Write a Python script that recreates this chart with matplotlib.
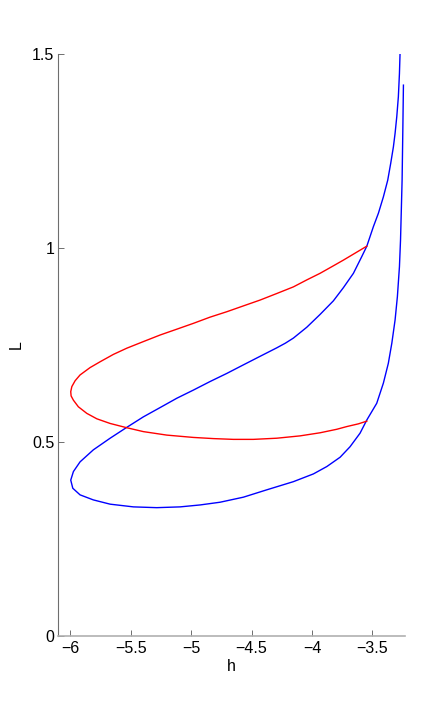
import matplotlib
matplotlib.use("Agg")
import matplotlib.pyplot as plt

plt.rcParams['font.family'] = ['Liberation Sans', 'DejaVu Sans']

# Blue curve (h, L) traced along its path
blue_h = [-3.271, -3.276, -3.285, -3.298, -3.312, -3.326, -3.348, -3.373, -3.409,
          -3.450, -3.492, -3.546, -3.588, -3.657, -3.740, -3.823, -3.933, -4.043,
          -4.154, -4.220, -4.291, -4.430, -4.568, -4.705, -4.844, -4.982, -5.119, -5.257,
          -5.396, -5.533, -5.671, -5.810, -5.920, -5.975, -5.997, -5.980, -5.920,
          -5.810, -5.671, -5.478, -5.285, -5.092, -4.926, -4.761, -4.568, -4.374,
          -4.154, -3.988, -3.877, -3.767, -3.685, -3.602, -3.546, -3.464, -3.409,
          -3.368, -3.339, -3.312, -3.293, -3.276, -3.267, -3.254, -3.248, -3.243]
blue_L = [1.501, 1.449, 1.389, 1.338, 1.295, 1.260, 1.218, 1.174, 1.131,
          1.089, 1.054, 1.004, 0.977, 0.934, 0.897, 0.863, 0.828, 0.795,
          0.767, 0.754, 0.742, 0.720, 0.698, 0.676, 0.655, 0.633, 0.612, 0.588,
          0.564, 0.537, 0.509, 0.479, 0.448, 0.423, 0.401, 0.380, 0.363,
          0.350, 0.339, 0.332, 0.330, 0.332, 0.337, 0.344, 0.357, 0.376,
          0.397, 0.417, 0.436, 0.460, 0.487, 0.522, 0.556, 0.599, 0.651,
          0.702, 0.754, 0.814, 0.874, 0.951, 1.020, 1.174, 1.303, 1.419]

# Red curve (h, L)
red_h = [-3.546, -3.643, -3.740, -3.836, -3.933, -4.043, -4.154, -4.291, -4.430,
         -4.568, -4.705, -4.844, -4.982, -5.119, -5.257, -5.396, -5.533, -5.644,
         -5.754, -5.837, -5.920, -5.961, -5.988, -5.997, -5.994, -5.975, -5.934,
         -5.864, -5.781, -5.671, -5.533, -5.396, -5.202, -4.982, -4.816, -4.651,
         -4.485, -4.291, -4.099, -3.933, -3.795, -3.712, -3.616, -3.546]
red_L = [1.004, 0.986, 0.968, 0.951, 0.934, 0.917, 0.899, 0.882, 0.865,
         0.850, 0.835, 0.821, 0.805, 0.790, 0.775, 0.758, 0.741, 0.725,
         0.706, 0.691, 0.672, 0.657, 0.642, 0.629, 0.618, 0.607, 0.590,
         0.573, 0.559, 0.547, 0.536, 0.526, 0.517, 0.511, 0.508, 0.506,
         0.506, 0.509, 0.515, 0.523, 0.532, 0.539, 0.546, 0.553]

x_ticks = [-6, -5.5, -5, -4.5, -4, -3.5]
x_ticklabels = ['\u22126', '\u22125.5', '\u22125', '\u22124.5', '\u22124', '\u22123.5']
y_ticks = [0, 0.5, 1, 1.5]
y_ticklabels = ['0', '0.5', '1', '1.5']

fig = plt.figure(figsize=(4.48, 7.15), dpi=100)
ax = fig.add_axes([58.3 / 448, 1 - 635.7 / 715, (405 - 58.3) / 448, (635.7 - 53.7) / 715])

ax.plot(blue_h, blue_L, color='#0000ff', lw=1.0, solid_joinstyle='round')
ax.plot(red_h, red_L, color='#ff0000', lw=1.0, solid_joinstyle='round')

ax.set_xlim(-6.1, -3.23)
ax.set_ylim(0, 1.5)
ax.set_xticks(x_ticks)
ax.set_xticklabels(x_ticklabels)
ax.set_yticks(y_ticks)
ax.set_yticklabels(y_ticklabels)

for s in ['top', 'right']:
    ax.spines[s].set_visible(False)
ax.spines['left'].set_color('#6e6e6e')
ax.spines['left'].set_linewidth(0.8)
ax.spines['bottom'].set_color('#b0b0b0')
ax.spines['bottom'].set_linewidth(1.2)

ax.tick_params(axis='both', direction='in', length=4, width=0.7, colors='#6e6e6e',
               labelcolor='black', labelsize=11.5)
ax.tick_params(axis='x', pad=4)
ax.tick_params(axis='y', pad=3)

ax.set_xlabel('h', fontsize=11.5, labelpad=2)
ax.set_ylabel('L', fontsize=11.5, labelpad=6)

fig.savefig('out.png', dpi=100)
